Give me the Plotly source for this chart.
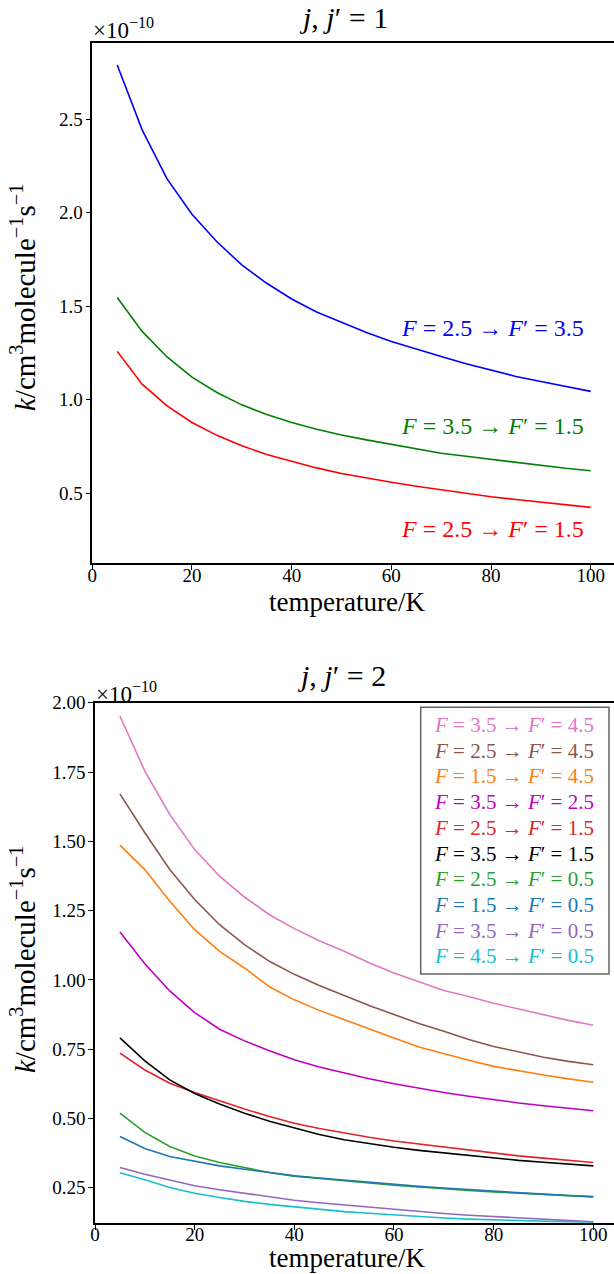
import plotly.graph_objects as go

# ---------------- data ----------------
temperature = [5, 10, 15, 20, 25, 30, 35, 40, 45, 50, 55, 60, 65, 70, 75, 80, 85, 90, 95, 100]

# j, j' = 1  (units of 1e-10 cm^3 molecule^-1 s^-1)
j1_names = ["F = 2.5 → F′ = 3.5", "F = 3.5 → F′ = 1.5", "F = 2.5 → F′ = 1.5"]
j1_colors = ["#0000ff", "#008000", "#ff0000"]
j1_F25_F35 = [2.790, 2.443, 2.181, 1.992, 1.845, 1.721, 1.623, 1.539, 1.470, 1.414,
              1.360, 1.312, 1.270, 1.232, 1.193, 1.157, 1.125, 1.098, 1.070, 1.045]
j1_F35_F15 = [1.547, 1.366, 1.229, 1.121, 1.039, 0.973, 0.922, 0.879, 0.843, 0.812,
              0.786, 0.762, 0.738, 0.714, 0.698, 0.682, 0.665, 0.648, 0.634, 0.621]
j1_F25_F15 = [1.259, 1.084, 0.968, 0.879, 0.810, 0.754, 0.708, 0.670, 0.636, 0.606,
              0.581, 0.559, 0.538, 0.519, 0.500, 0.482, 0.467, 0.452, 0.438, 0.425]
j1_series = [j1_F25_F35, j1_F35_F15, j1_F25_F15]
j1_label_y = [1.382, 0.858, 0.307]

# j, j' = 2
j2_labels = [("3.5", "4.5"), ("2.5", "4.5"), ("1.5", "4.5"), ("3.5", "2.5"), ("2.5", "1.5"),
             ("3.5", "1.5"), ("2.5", "0.5"), ("1.5", "0.5"), ("3.5", "0.5"), ("4.5", "0.5")]
j2_colors = ["#e377c2", "#8c564b", "#ff7f0e", "#bf00bf", "#e0242a",
             "#000000", "#2ca02c", "#1f77b4", "#9467bd", "#17becf"]
j2_F35_F45 = [1.952, 1.753, 1.597, 1.470, 1.374, 1.299, 1.235, 1.185, 1.141, 1.103,
              1.062, 1.025, 0.993, 0.962, 0.940, 0.916, 0.895, 0.874, 0.854, 0.836]
j2_F25_F45 = [1.671, 1.531, 1.398, 1.290, 1.199, 1.127, 1.067, 1.020, 0.980, 0.944,
              0.908, 0.875, 0.843, 0.815, 0.785, 0.760, 0.740, 0.721, 0.706, 0.694]
j2_F15_F45 = [1.486, 1.398, 1.284, 1.181, 1.103, 1.043, 0.975, 0.928, 0.890, 0.856,
              0.822, 0.790, 0.758, 0.733, 0.710, 0.688, 0.672, 0.657, 0.643, 0.631]
j2_F35_F25 = [1.173, 1.058, 0.960, 0.882, 0.822, 0.780, 0.744, 0.712, 0.686, 0.664,
              0.643, 0.625, 0.609, 0.594, 0.580, 0.567, 0.556, 0.546, 0.537, 0.528]
j2_F25_F15 = [0.736, 0.675, 0.627, 0.594, 0.564, 0.534, 0.507, 0.483, 0.464, 0.447,
              0.432, 0.419, 0.408, 0.398, 0.386, 0.375, 0.365, 0.357, 0.349, 0.341]
j2_F35_F15 = [0.791, 0.708, 0.639, 0.590, 0.552, 0.519, 0.490, 0.465, 0.442, 0.423,
              0.409, 0.396, 0.385, 0.376, 0.366, 0.357, 0.349, 0.342, 0.335, 0.329]
j2_F25_F05 = [0.519, 0.450, 0.399, 0.365, 0.341, 0.323, 0.305, 0.292, 0.283, 0.275,
              0.267, 0.259, 0.252, 0.246, 0.240, 0.235, 0.230, 0.226, 0.221, 0.217]
j2_F15_F05 = [0.435, 0.392, 0.363, 0.345, 0.329, 0.317, 0.305, 0.293, 0.285, 0.277,
              0.269, 0.261, 0.255, 0.249, 0.243, 0.237, 0.232, 0.227, 0.222, 0.218]
j2_F35_F05 = [0.323, 0.299, 0.278, 0.257, 0.243, 0.230, 0.218, 0.205, 0.196, 0.188,
              0.179, 0.171, 0.164, 0.157, 0.151, 0.146, 0.140, 0.135, 0.131, 0.127]
j2_F45_F05 = [0.304, 0.279, 0.251, 0.230, 0.215, 0.201, 0.190, 0.181, 0.172, 0.164,
              0.158, 0.152, 0.146, 0.141, 0.137, 0.134, 0.131, 0.129, 0.127, 0.125]
j2_series = [j2_F35_F45, j2_F25_F45, j2_F15_F45, j2_F35_F25, j2_F25_F15,
             j2_F35_F15, j2_F25_F05, j2_F15_F05, j2_F35_F05, j2_F45_F05]

x_ticks = [0, 20, 40, 60, 80, 100]
y1_ticks = [0.5, 1.0, 1.5, 2.0, 2.5]
y2_ticks = [0.25, 0.50, 0.75, 1.00, 1.25, 1.50, 1.75, 2.00]

# ---------------- layout helpers ----------------
W, H = 614, 1274
FONT = "Liberation Serif"


def px(x):
    return x / W


def py(y):
    return (H - y) / H


def ftext(a, b):
    return f"<i>F</i> = {a} → <i>F</i>′ = {b}"


fig = go.Figure()

for vals, col in zip(j1_series, j1_colors):
    fig.add_trace(go.Scatter(x=temperature, y=vals, mode="lines",
                             line=dict(color=col, width=1.6),
                             xaxis="x", yaxis="y", showlegend=False))

for vals, col in zip(j2_series, j2_colors):
    fig.add_trace(go.Scatter(x=temperature, y=vals, mode="lines",
                             line=dict(color=col, width=1.6),
                             xaxis="x2", yaxis="y2", showlegend=False))

axis_common = dict(showgrid=False, zeroline=False, showline=True, linecolor="black",
                   linewidth=1.6, ticks="outside", ticklen=5, tickwidth=1.3, automargin=False,
                   tickcolor="black", tickfont=dict(family=FONT, size=19, color="black"))
xa = dict(ticklabelstandoff=-11, **axis_common)
ya = dict(ticklabelstandoff=-1, **axis_common)

fig.update_layout(
    width=W, height=H, margin=dict(l=0, r=0, t=0, b=0, autoexpand=False),
    paper_bgcolor="white", plot_bgcolor="white", showlegend=False,
    font=dict(family=FONT, color="black"),
    xaxis=dict(domain=[px(92.3), 1.0], range=[0, (W - 92.3) / 4.984], anchor="y",
               tickvals=x_ticks, ticktext=[str(v) for v in x_ticks], mirror=True, **xa),
    yaxis=dict(domain=[py(563.3), py(43.3)], range=[0.126, 2.906], anchor="x",
               tickvals=y1_ticks, ticktext=[f"{v:.1f}" for v in y1_ticks], **ya),
    xaxis2=dict(domain=[px(95), 1.0], range=[0, (W - 95) / 4.983], anchor="y2",
                tickvals=x_ticks, ticktext=[str(v) for v in x_ticks], mirror=True, **xa),
    yaxis2=dict(domain=[py(1222.7), py(702.7)], range=[0.124, 2.0], anchor="x2",
                tickvals=y2_ticks, ticktext=[f"{v:.2f}" for v in y2_ticks], **ya),
)

ann = []
# titles
ann.append(dict(text="<i>j</i>, <i>j</i>′ = 1", x=px(343), y=py(17), xref="paper", yref="paper",
                xanchor="center", yanchor="middle", showarrow=False, font=dict(size=30)))
ann.append(dict(text="<i>j</i>, <i>j</i>′ = 2", x=px(341), y=py(675), xref="paper", yref="paper",
                xanchor="center", yanchor="middle", showarrow=False, font=dict(size=30)))
# x titles
for yc in (602, 1258):
    ann.append(dict(text="temperature/K", x=px(347), y=py(yc), xref="paper", yref="paper",
                    xanchor="center", yanchor="middle", showarrow=False, font=dict(size=27)))
# y titles
ytitle = "<i>k</i>/cm<sup>3</sup>molecule<sup>−1</sup>s<sup>−1</sup>"
for yc in (298, 960):
    ann.append(dict(text=ytitle, x=px(23), y=py(yc), xref="paper", yref="paper", textangle=-90,
                    xanchor="center", yanchor="middle", showarrow=False, font=dict(size=29)))
# offset texts
for x0, yc in ((91, 28), (94, 692)):
    ann.append(dict(text="×10<sup>−10</sup>", x=px(x0), y=py(yc), xref="paper", yref="paper",
                    xanchor="left", yanchor="middle", showarrow=False, font=dict(size=23)))
# j=1 curve labels
for (a_b, col, yv) in zip([("2.5", "3.5"), ("3.5", "1.5"), ("2.5", "1.5")], j1_colors, j1_label_y):
    ann.append(dict(text=ftext(*a_b), x=99, y=yv, xref="x", yref="y", xanchor="right",
                    yanchor="middle", showarrow=False, font=dict(size=24, color=col)))
# j=2 legend
for i, ((a, b), col) in enumerate(zip(j2_labels, j2_colors)):
    ann.append(dict(text=ftext(a, b), x=px(432), y=py(725 + i * 25.7), xref="paper", yref="paper",
                    xanchor="left", yanchor="middle", showarrow=False, font=dict(size=21, color=col)))

fig.update_layout(annotations=ann)
fig.add_shape(type="rect", xref="paper", yref="paper", x0=px(420.7), x1=px(609),
              y0=py(974), y1=py(707.3), line=dict(color="#666666", width=1.5),
              fillcolor="rgba(255,255,255,0.8)", layer="above")

fig.write_html("out.html")
